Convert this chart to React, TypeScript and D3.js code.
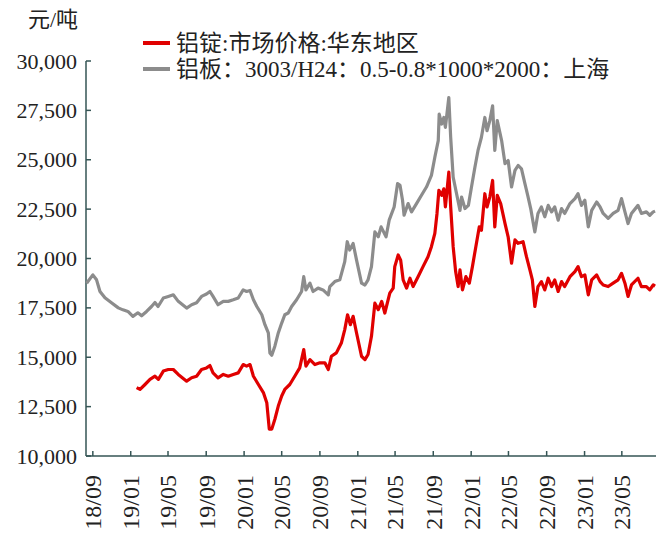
import React from "react";
import * as d3 from "d3";

// ---- data ----
const unitLabel = "元/吨";
const redLabel = "铝锭:市场价格:华东地区";
const grayLabel = "铝板：3003/H24：0.5-0.8*1000*2000：上海";

const yTicks = [10000, 12500, 15000, 17500, 20000, 22500, 25000, 27500, 30000];

const grayData: [string, number][] = [
  ["2018-08-12", 18750], ["2018-09-01", 19170], ["2018-09-13", 18920], ["2018-09-24", 18330],
  ["2018-10-10", 18010], ["2018-10-31", 17760], ["2018-11-22", 17500], ["2018-12-07", 17400],
  ["2018-12-23", 17320], ["2019-01-08", 17070], ["2019-01-24", 17250], ["2019-02-05", 17100],
  ["2019-02-21", 17320], ["2019-03-09", 17570], ["2019-03-20", 17770], ["2019-03-30", 17570],
  ["2019-04-16", 18000], ["2019-05-02", 18080], ["2019-05-18", 18160], ["2019-06-03", 17830],
  ["2019-06-30", 17490], ["2019-07-16", 17660], ["2019-08-01", 17760], ["2019-08-17", 18080],
  ["2019-09-02", 18200], ["2019-09-13", 18330], ["2019-09-23", 18080], ["2019-10-09", 17660],
  ["2019-10-26", 17830], ["2019-11-11", 17830], ["2019-11-27", 17910], ["2019-12-13", 18000],
  ["2019-12-29", 18410], ["2020-01-09", 18330], ["2020-01-20", 18380], ["2020-01-31", 17910],
  ["2020-02-11", 17570], ["2020-02-27", 17150], ["2020-03-08", 16650], ["2020-03-19", 16230],
  ["2020-03-24", 15220], ["2020-03-30", 15100], ["2020-04-09", 15560], ["2020-04-20", 16230],
  ["2020-05-01", 16730], ["2020-05-11", 17150], ["2020-05-22", 17240], ["2020-06-02", 17570],
  ["2020-06-18", 17910], ["2020-07-04", 18330], ["2020-07-11", 19080], ["2020-07-18", 18410],
  ["2020-07-31", 18750], ["2020-08-10", 18330], ["2020-08-26", 18500], ["2020-09-11", 18410],
  ["2020-09-28", 18160], ["2020-10-03", 18580], ["2020-10-19", 18830], ["2020-11-04", 18920],
  ["2020-11-20", 19840], ["2020-11-28", 20850], ["2020-12-06", 20430], ["2020-12-17", 20760],
  ["2020-12-28", 19920], ["2021-01-13", 18750], ["2021-01-24", 18660], ["2021-02-03", 18920],
  ["2021-02-14", 19590], ["2021-02-25", 21350], ["2021-03-08", 21100], ["2021-03-17", 21600],
  ["2021-04-02", 21100], ["2021-04-12", 21940], ["2021-04-28", 22610], ["2021-05-09", 23790],
  ["2021-05-17", 23700], ["2021-05-25", 22950], ["2021-05-30", 22190], ["2021-06-12", 22780],
  ["2021-06-23", 22360], ["2021-07-09", 22780], ["2021-07-25", 23200], ["2021-08-10", 23620],
  ["2021-08-26", 24210], ["2021-09-06", 25130], ["2021-09-17", 25970], ["2021-09-20", 27310],
  ["2021-09-28", 26810], ["2021-10-05", 27140], ["2021-10-10", 26640], ["2021-10-21", 28150],
  ["2021-10-27", 26140], ["2021-11-04", 24120], ["2021-11-15", 23280], ["2021-11-26", 22440],
  ["2021-12-01", 23110], ["2021-12-12", 22530], ["2021-12-23", 22690], ["2022-01-02", 23620],
  ["2022-01-13", 24620], ["2022-01-23", 25470], ["2022-02-03", 26140], ["2022-02-14", 27140],
  ["2022-02-21", 26470], ["2022-03-02", 26980], ["2022-03-11", 27730], ["2022-03-18", 25470],
  ["2022-03-26", 26980], ["2022-04-09", 25970], ["2022-04-20", 24800], ["2022-04-30", 24960],
  ["2022-05-11", 23620], ["2022-05-22", 24460], ["2022-06-01", 24710], ["2022-06-12", 24540],
  ["2022-06-23", 23790], ["2022-07-02", 23200], ["2022-07-12", 22500], ["2022-07-20", 21770],
  ["2022-07-25", 21350], ["2022-08-04", 22280], ["2022-08-15", 22610], ["2022-08-26", 22110],
  ["2022-09-06", 22690], ["2022-09-17", 22360], ["2022-09-27", 22610], ["2022-10-08", 21940],
  ["2022-10-19", 22530], ["2022-10-29", 22280], ["2022-11-15", 22780], ["2022-12-01", 23030],
  ["2022-12-11", 23280], ["2022-12-22", 22690], ["2023-01-02", 22950], ["2023-01-13", 21600],
  ["2023-01-24", 22440], ["2023-02-09", 22860], ["2023-02-20", 22610], ["2023-03-02", 22280],
  ["2023-03-18", 22030], ["2023-04-03", 22280], ["2023-04-19", 22440], ["2023-04-30", 23030],
  ["2023-05-11", 22360], ["2023-05-21", 21770], ["2023-06-01", 22280], ["2023-06-22", 22690],
  ["2023-07-03", 22280], ["2023-07-19", 22360], ["2023-07-30", 22190], ["2023-08-10", 22360],
  ["2023-08-16", 22400],
];

const redData: [string, number][] = [
  ["2019-01-20", 13460], ["2019-01-31", 13370], ["2019-02-16", 13620], ["2019-03-04", 13880],
  ["2019-03-20", 14040], ["2019-03-31", 13880], ["2019-04-16", 14300], ["2019-05-02", 14380],
  ["2019-05-18", 14380], ["2019-06-03", 14130], ["2019-06-30", 13790], ["2019-07-16", 13960],
  ["2019-08-01", 14040], ["2019-08-17", 14380], ["2019-09-02", 14460], ["2019-09-13", 14580],
  ["2019-09-23", 14210], ["2019-10-09", 13960], ["2019-10-26", 14130], ["2019-11-11", 14040],
  ["2019-11-27", 14130], ["2019-12-13", 14210], ["2019-12-29", 14630], ["2020-01-09", 14550],
  ["2020-01-20", 14630], ["2020-01-31", 14040], ["2020-02-16", 13620], ["2020-03-03", 13210],
  ["2020-03-14", 12700], ["2020-03-22", 11360], ["2020-03-30", 11360], ["2020-04-09", 11860],
  ["2020-04-20", 12530], ["2020-05-01", 13040], ["2020-05-11", 13370], ["2020-05-27", 13620],
  ["2020-06-12", 14040], ["2020-06-28", 14460], ["2020-07-11", 15390], ["2020-07-18", 14550],
  ["2020-07-31", 14880], ["2020-08-16", 14630], ["2020-09-01", 14720], ["2020-09-17", 14720],
  ["2020-09-28", 14380], ["2020-10-08", 15050], ["2020-10-24", 15220], ["2020-11-09", 15720],
  ["2020-11-20", 16400], ["2020-11-29", 17150], ["2020-12-08", 16650], ["2020-12-17", 17070],
  ["2020-12-28", 16230], ["2021-01-13", 15050], ["2021-01-24", 14880], ["2021-02-03", 15140],
  ["2021-02-14", 16060], ["2021-02-25", 17740], ["2021-03-08", 17410], ["2021-03-19", 17830],
  ["2021-03-29", 17240], ["2021-04-14", 18250], ["2021-04-25", 18500], ["2021-04-30", 19590],
  ["2021-05-11", 20180], ["2021-05-19", 19920], ["2021-05-27", 18920], ["2021-06-07", 18500],
  ["2021-06-18", 19000], ["2021-06-28", 18580], ["2021-07-14", 19080], ["2021-07-30", 19590],
  ["2021-08-15", 20090], ["2021-08-26", 20600], ["2021-09-06", 21270], ["2021-09-13", 22280],
  ["2021-09-19", 23450], ["2021-09-28", 23200], ["2021-10-05", 23530], ["2021-10-10", 22610],
  ["2021-10-21", 24370], ["2021-10-27", 22610], ["2021-11-04", 20600], ["2021-11-12", 19340],
  ["2021-11-20", 18580], ["2021-11-26", 19420], ["2021-12-04", 18410], ["2021-12-15", 19080],
  ["2021-12-26", 18750], ["2022-01-05", 19590], ["2022-01-16", 20600], ["2022-01-27", 21600],
  ["2022-02-03", 21430], ["2022-02-14", 23280], ["2022-02-21", 22610], ["2022-03-02", 23110],
  ["2022-03-11", 23950], ["2022-03-18", 21600], ["2022-03-26", 23200], ["2022-04-06", 22780],
  ["2022-04-20", 21770], ["2022-04-30", 21100], ["2022-05-11", 19760], ["2022-05-22", 20940],
  ["2022-06-01", 20770], ["2022-06-17", 20850], ["2022-06-28", 20090], ["2022-07-09", 19420],
  ["2022-07-17", 18920], ["2022-07-25", 17570], ["2022-08-04", 18580], ["2022-08-15", 18830],
  ["2022-08-26", 18410], ["2022-09-06", 19000], ["2022-09-17", 18580], ["2022-09-27", 18920],
  ["2022-10-08", 18330], ["2022-10-19", 18830], ["2022-10-29", 18580], ["2022-11-15", 19080],
  ["2022-12-01", 19340], ["2022-12-11", 19590], ["2022-12-22", 19080], ["2023-01-02", 19170],
  ["2023-01-13", 18160], ["2023-01-24", 18920], ["2023-02-09", 19170], ["2023-02-20", 18830],
  ["2023-03-02", 18660], ["2023-03-18", 18580], ["2023-04-03", 18750], ["2023-04-19", 18920],
  ["2023-04-30", 19250], ["2023-05-11", 18750], ["2023-05-21", 18080], ["2023-06-01", 18660],
  ["2023-06-22", 19000], ["2023-07-03", 18580], ["2023-07-19", 18580], ["2023-07-30", 18410],
  ["2023-08-10", 18660], ["2023-08-16", 18600],
];

const xStart = "2018-08-10";
const xEnd = "2023-08-19";

const RED = "#e00000";
const GRAY = "#8c8c8c";
const AXIS = "#355555";
const SERIF = "'Liberation Serif', 'Times New Roman', 'Noto Sans CJK SC', serif";

export default function App() {
  const parse = d3.timeParse("%Y-%m-%d");
  const x = d3.scaleTime().domain([parse(xStart)!, parse(xEnd)!]).range([86, 656]);
  const y = d3.scaleLinear().domain([10000, 30000]).range([456, 61]);
  const line = d3
    .line<[string, number]>()
    .x((d) => x(parse(d[0])!))
    .y((d) => y(d[1]));
  const xTicks = d3.timeMonth.every(4)!.range(parse("2018-09-01")!, parse("2023-05-02")!);
  const fmtX = d3.timeFormat("%y/%m");
  const fmtY = d3.format(",");
  const [x0, x1] = x.range();
  const [yb, yt] = y.range();

  return (
    <svg width={668} height={534} style={{ position: "absolute", left: 0, top: 0, background: "#fff" }}>
      <text x={28} y={19} fontFamily={SERIF} fontSize={22} dominantBaseline="central" fill="#222">
        {unitLabel}
      </text>
      {/* legend */}
      <line x1={143} x2={170} y1={43} y2={43} stroke={RED} strokeWidth={4} />
      <text x={176} y={43} fontFamily={SERIF} fontSize={23} dominantBaseline="central" fill="#222">
        {redLabel}
      </text>
      <line x1={143} x2={170} y1={69} y2={69} stroke={GRAY} strokeWidth={4} />
      <text x={176} y={69} fontFamily={SERIF} fontSize={23} dominantBaseline="central" fill="#222">
        {grayLabel}
      </text>

      {/* y axis */}
      <line x1={x0} x2={x0} y1={yt} y2={yb} stroke={AXIS} strokeWidth={1.5} />
      {yTicks.map((t) => (
        <g key={t}>
          <line x1={x0} x2={x0 + 5} y1={y(t)} y2={y(t)} stroke={AXIS} strokeWidth={1.5} />
          <text x={77} y={y(t)} textAnchor="end" dominantBaseline="central" fontFamily={SERIF} fontSize={22} fill="#222">
            {fmtY(t)}
          </text>
        </g>
      ))}
      {/* x axis */}
      <line x1={x0} x2={x1} y1={yb} y2={yb} stroke={AXIS} strokeWidth={1.5} />
      {xTicks.map((t) => (
        <g key={+t}>
          <line x1={x(t)} x2={x(t)} y1={yb} y2={yb - 5} stroke={AXIS} strokeWidth={1.5} />
          <text
            transform={`translate(${x(t)},475) rotate(-90)`}
            textAnchor="end"
            dy="0.35em"
            fontFamily={SERIF}
            fontSize={24}
            fill="#222"
          >
            {fmtX(t)}
          </text>
        </g>
      ))}

      <path d={line(grayData) || ""} fill="none" stroke={GRAY} strokeWidth={3.2} strokeLinejoin="round" />
      <path d={line(redData) || ""} fill="none" stroke={RED} strokeWidth={3.2} strokeLinejoin="round" />
    </svg>
  );
}
